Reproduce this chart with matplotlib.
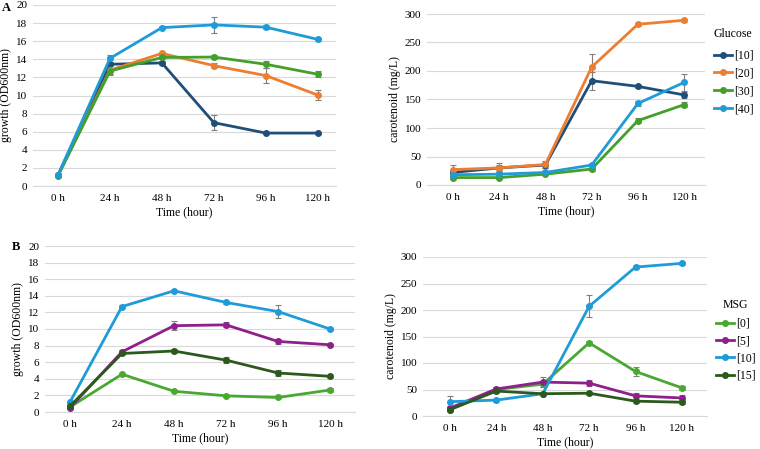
import numpy as np
import matplotlib
matplotlib.use('Agg')
import matplotlib.pyplot as plt

plt.rcParams['font.family'] = ['Liberation Serif', 'DejaVu Serif']

times = ['0 h', '24 h', '48 h', '72 h', '96 h', '120 h']

# glucose series
glu_labels = ['[10]', '[20]', '[30]', '[40]']
glu_colors = ['#1f4e79', '#ed7d31', '#43a02a', '#1f9bd7']
glu_growth = [[1.2, 13.45, 13.6, 7.0, 5.85, 5.85],
              [1.2, 12.8, 14.65, 13.3, 12.2, 10.05],
              [1.1, 12.7, 14.2, 14.25, 13.45, 12.35],
              [1.2, 14.1, 17.5, 17.8, 17.55, 16.2]]
glu_growth_err = [[0.1, 0.5, 0.2, 0.8, 0.15, 0.15],
                  [0.1, 0.5, 0.2, 0.3, 0.8, 0.55],
                  [0.1, 0.3, 0.2, 0.25, 0.4, 0.35],
                  [0.1, 0.4, 0.2, 0.85, 0.2, 0.2]]
glu_carot = [[22, 30, 35, 183, 173, 158],
             [27, 30, 36, 207, 282, 289],
             [13, 13, 19, 28, 113, 141],
             [18, 19, 22, 35, 143, 180]]
glu_carot_err = [[5, 5, 5, 16, 3, 6],
                 [8, 8, 6, 22, 3, 3],
                 [2, 2, 2, 3, 5, 4],
                 [3, 3, 3, 4, 4, 15]]

# MSG series
msg_labels = ['[0]', '[5]', '[10]', '[15]']
msg_colors = ['#4aa832', '#8e1f8c', '#1f9bd7', '#2b5a1c']
msg_growth = [[0.6, 4.55, 2.5, 1.95, 1.75, 2.65],
              [0.5, 7.25, 10.4, 10.5, 8.5, 8.1],
              [1.2, 12.7, 14.6, 13.2, 12.1, 10.0],
              [0.7, 7.05, 7.35, 6.25, 4.7, 4.3]]
msg_growth_err = [[0.1, 0.2, 0.15, 0.1, 0.1, 0.25],
                  [0.1, 0.2, 0.55, 0.3, 0.3, 0.15],
                  [0.1, 0.15, 0.15, 0.2, 0.75, 0.15],
                  [0.1, 0.2, 0.2, 0.4, 0.35, 0.15]]
msg_carot = [[12, 50, 60, 138, 84, 53],
             [15, 51, 64, 62, 38, 34],
             [27, 30, 42, 207, 281, 288],
             [12, 47, 42, 43, 28, 26]]
msg_carot_err = [[3, 4, 6, 4, 8, 4],
                 [4, 4, 10, 6, 6, 6],
                 [10, 3, 3, 21, 3, 3],
                 [3, 3, 3, 3, 3, 4]]

W, H = 760, 449
fig = plt.figure(figsize=(W / 100, H / 100), dpi=100)


def make_ax(l, r, t, b):
    return fig.add_axes([l / W, 1 - b / H, (r - l) / W, (b - t) / H])


def draw(ax, data, errs, colors, labels, ylim, step, xlim, ylabel):
    x = np.arange(len(times))
    lines = []
    for vals, e, c, lab in zip(data, errs, colors, labels):
        ax.errorbar(x, vals, yerr=e, fmt='none', ecolor='#7f7f7f',
                    elinewidth=0.8, capsize=2, capthick=0.8, zorder=2)
        ln, = ax.plot(x, vals, '-o', color=c, lw=2, ms=4, label=lab, zorder=3)
        lines.append(ln)
    ax.set_xlim(*xlim)
    ax.set_ylim(*ylim)
    ax.set_yticks(np.arange(ylim[0], ylim[1] + 1, step))
    ax.set_xticks(x)
    ax.set_xticklabels(times)
    ax.grid(axis='y', color='#d9d9d9', lw=0.8)
    ax.set_axisbelow(True)
    for s in ['top', 'right', 'left']:
        ax.spines[s].set_visible(False)
    ax.spines['bottom'].set_color('#d9d9d9')
    ax.tick_params(length=0, labelsize=8)
    ax.tick_params(axis='x', pad=6)
    ax.tick_params(axis='y', pad=4)
    ax.set_xlabel('Time (hour)', fontsize=8.5, labelpad=2)
    ax.set_ylabel(ylabel, fontsize=8.5, labelpad=3)
    return lines


ax1 = make_ax(33, 336, 5, 186)
draw(ax1, glu_growth, glu_growth_err, glu_colors, glu_labels, (0, 20), 2,
     (-0.48, 5.35), 'growth (OD600nm)')

ax2 = make_ax(427, 705, 14, 185)
l2 = draw(ax2, glu_carot, glu_carot_err, glu_colors, glu_labels, (0, 300), 50,
          (-0.56, 5.45), 'carotenoid (mg/L)')

ax3 = make_ax(45, 355, 246, 412)
draw(ax3, msg_growth, msg_growth_err, msg_colors, msg_labels, (0, 20), 2,
     (-0.48, 5.48), 'growth (OD600nm)')

ax4 = make_ax(423, 707, 257, 416)
l4 = draw(ax4, msg_carot, msg_carot_err, msg_colors, msg_labels, (0, 300), 50,
          (-0.58, 5.54), 'carotenoid (mg/L)')

leg_kw = dict(loc='upper left', frameon=False, fontsize=8.5,
              title_fontsize=8.5, handlelength=1.5, handletextpad=0.2,
              borderpad=0, borderaxespad=0)
leg1 = fig.legend(handles=l2, title='Glucose',
                  bbox_to_anchor=(714 / W, 1 - 28 / H),
                  labelspacing=0.5, **leg_kw)
leg1._legend_box.align = 'left'
leg1._legend_box.sep = 7
leg2 = fig.legend(handles=l4, title='MSG',
                  bbox_to_anchor=(716 / W, 1 - 299 / H),
                  labelspacing=0.45, **leg_kw)
leg2._legend_box.sep = 5

fig.text(2 / W, 1 - 8 / H, 'A', fontsize=9, fontweight='bold', va='center')
fig.text(12 / W, 1 - 247 / H, 'B', fontsize=9, fontweight='bold', va='center')

fig.savefig('out.png', dpi=100)
